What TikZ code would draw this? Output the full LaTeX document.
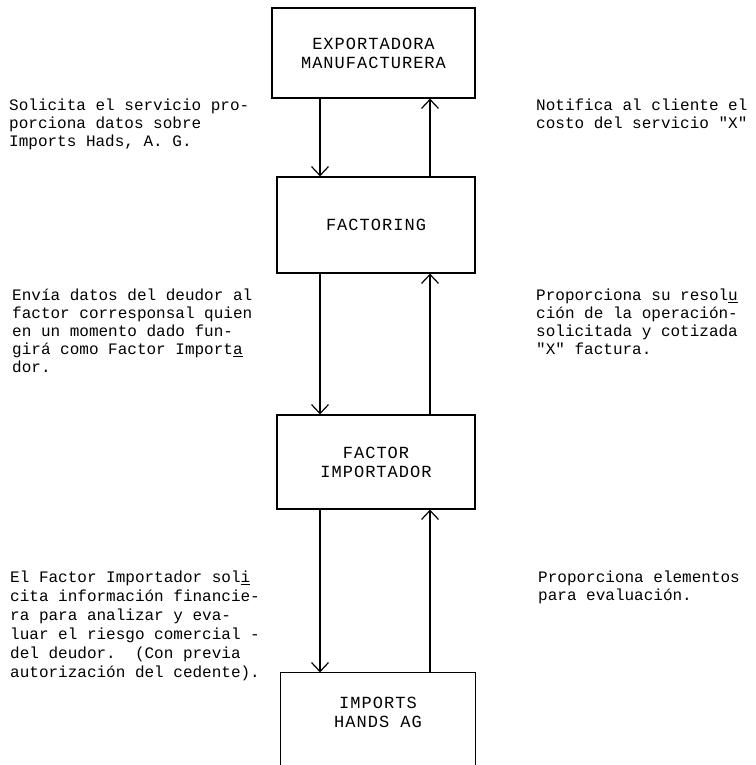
\documentclass[tikz,border=0pt]{standalone}
\usepackage{fontspec}
\setmonofont{Liberation Mono}
\newfontfamily\boxfont[LetterSpace=6]{Liberation Mono}
\usetikzlibrary{arrows.meta}
\tikzset{
  entity/.style={draw, line width=1.2pt, minimum width=198pt, minimum height=94pt,
    inner sep=0pt, align=center, font=\boxfont\fontsize{17}{19}\selectfont},
  note/.style={anchor=north west, inner sep=0pt, align=left,
    font=\ttfamily\fontsize{16}{18}\selectfont},
  flow/.style={line width=1.2pt, -{Straight Barb[length=9pt,width=17pt]}},
}
\begin{document}
\begin{tikzpicture}[x=1pt,y=-1pt]
  \useasboundingbox (0,0) rectangle (755,765);
  \clip (0,0) rectangle (755,765);
  % boxes
  \node[entity, minimum width=203pt, minimum height=90pt] (Exp) at (373.5,53) {EXPORTADORA\\MANUFACTURERA};
  \node[entity, minimum height=96pt] (Fac) at (376,225) {FACTORING};
  \node[entity] (FacImp) at (376,462) {FACTOR\\IMPORTADOR};
  \node[entity, draw=none, minimum width=194pt, minimum height=78pt] (Imp) at (378,712) {IMPORTS\\HANDS AG};
  \draw[line width=1.2pt] ([yshift=-30pt]Imp.south west) -- (Imp.north west)
    -- (Imp.north east) -- ([yshift=-30pt]Imp.south east);
  % arrows
  \coordinate (L) at (320,0);
  \coordinate (R) at (430,0);
  \draw[flow] (Exp.south -| L) -- (Fac.north -| L);
  \draw[flow] (Fac.north -| R) -- (Exp.south -| R);
  \draw[flow] (Fac.south -| L) -- (FacImp.north -| L);
  \draw[flow] (FacImp.north -| R) -- (Fac.south -| R);
  \draw[flow] (FacImp.south -| L) -- (Imp.north -| L);
  \draw[flow] (Imp.north -| R) -- (FacImp.south -| R);
  % notes
  \node[note] (n1) at (9,99) {Solicita el servicio pro-\\porciona datos sobre\\Imports Hads, A. G.};
  \node[note] (n2) at (536,99) {Notifica al cliente el\\costo del servicio "X"};
  \node[note] (n3) at (12,289) {Envía datos del deudor al\\factor corresponsal quien\\en un momento dado fun-\\girá como Factor Import\underline{a}\\dor.};
  \node[note] (n4) at (536,289) {Proporciona su resol\underline{u}\\ción de la operación-\\solicitada y cotizada\\"X" factura.};
  \node[note, font=\ttfamily\fontsize{16}{19}\selectfont] (n5) at (10,571) {El Factor Importador sol\underline{i}\\cita información financie-\\ra para analizar y eva-\\luar el riesgo comercial -\\del deudor.\ \ (Con previa\\autorización del cedente).};
  \node[note] (n6) at (538,571) {Proporciona elementos\\para evaluación.};
\end{tikzpicture}
\end{document}
